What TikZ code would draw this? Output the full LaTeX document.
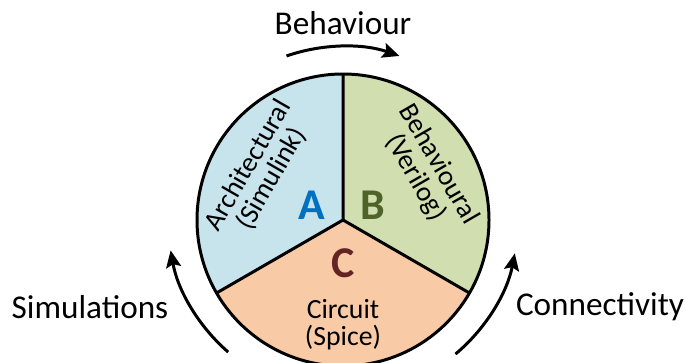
\documentclass[tikz,border=0pt]{standalone}
\usepackage{fontspec}
\setmainfont{Carlito}
\usepackage{tikz}
\usetikzlibrary{arrows.meta}
\definecolor{fillA}{HTML}{C7E3EC}
\definecolor{fillB}{HTML}{D1DEB0}
\definecolor{fillC}{HTML}{F8CBA6}
\definecolor{letA}{HTML}{0070C0}
\definecolor{letB}{HTML}{4F6228}
\definecolor{letC}{HTML}{632523}
\tikzstyle{flow} = [line width=1.7pt, -{Stealth[length=0.34cm, width=0.3cm, inset=0.06cm]}]
\tikzstyle{outer} = [font=\fontsize{18.9}{21}\selectfont]
\tikzstyle{inner} = [font=\fontsize{15.8}{15.2}\selectfont, align=center, inner sep=0pt]
\tikzstyle{letter} = [font=\fontsize{25}{28}\selectfont\bfseries, inner sep=0pt]

\begin{document}
\begin{tikzpicture}
	\clip (0,0) rectangle (13.72,7.24) ;
	\coordinate (O) at (6.86,2.84) ;
	
	\foreach \n in {90, 210, 330}
	{
		\coordinate (R\n) at ([shift={(\n:2.92)}]O) ;
	}
	
	\fill[fillA] (O) -- (R90) arc[start angle=90, end angle=210, radius=2.92] -- cycle ;
	\fill[fillB] (O) -- (R330) arc[start angle=-30, end angle=90, radius=2.92] -- cycle ;
	\fill[fillC] (O) -- (R210) arc[start angle=210, end angle=330, radius=2.92] -- cycle ;
	\draw[line width=1.7pt] (O) circle[radius=2.92] ;
	\draw[line width=1.7pt] (R90) -- (O) -- (R210) ;
	\draw[line width=1.7pt] (O) -- (R330) ;
	
	\node[letter, text=letA] (lblA) at (6.24,3.14) {A} ;
	\node[letter, text=letB] (lblB) at (7.46,3.14) {B} ;
	\node[letter, text=letC] (lblC) at (6.86,1.98) {C} ;
	
	\node[inner, rotate=60] (txtA) at (5.2,3.8) {Architectural\\(Simulink)} ;
	\node[inner, rotate=-60] (txtB) at (8.54,3.82) {Behavioural\\(Verilog)} ;
	\node[inner] (txtC) at (6.86,0.74) {Circuit\\(Spice)} ;
	
	\node[outer] (behav) at (6.86,6.78) {Behaviour} ;
	\node[outer] (sim) at (1.8,1.1) {Simulations} ;
	\node[outer] (conn) at (12.0,1.1) {Connectivity} ;
	
	\coordinate (topS) at ([shift={(109:3.47)}]O) ;
	\coordinate (leftS) at ([shift={(229:3.5)}]O) ;
	\coordinate (rightS) at ([shift={(310:3.5)}]O) ;
	
	\draw[flow] (topS) arc[start angle=109, end angle=71, radius=3.47] ;
	\draw[flow] (leftS) arc[start angle=229, end angle=190, radius=3.5] ;
	\draw[flow] (rightS) arc[start angle=310, end angle=349, radius=3.5] ;
\end{tikzpicture}
\end{document}
